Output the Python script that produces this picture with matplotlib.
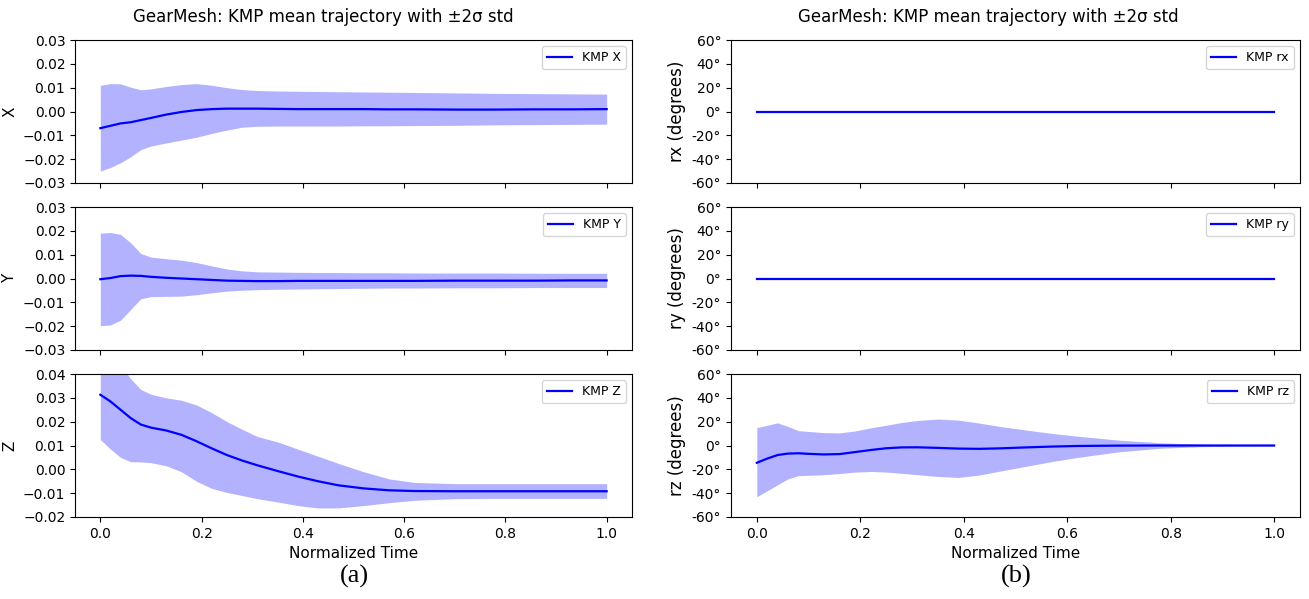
import matplotlib
matplotlib.use('Agg')
import matplotlib.pyplot as plt
from matplotlib.ticker import FuncFormatter, MultipleLocator
import numpy as np

# normalized time samples
t = [0.0, 0.02, 0.04, 0.06, 0.08, 0.10, 0.13, 0.16, 0.19, 0.22, 0.25, 0.28, 0.31,
     0.35, 0.39, 0.43, 0.47, 0.52, 0.57, 0.62, 0.70, 0.78, 0.86, 0.93, 1.0]

# position (left column)
x_mean = [-0.0070, -0.0060, -0.0050, -0.0045, -0.0036, -0.0027, -0.0013, -0.0002, 0.0006, 0.0010,
          0.0012, 0.0012, 0.0012, 0.0011, 0.0010, 0.0010, 0.0010, 0.0010, 0.0009, 0.0009,
          0.0008, 0.0008, 0.0009, 0.0009, 0.0010]
x_up = [0.0110, 0.0117, 0.0116, 0.0102, 0.0091, 0.0095, 0.0105, 0.0113, 0.0117, 0.0110,
        0.0100, 0.0092, 0.0088, 0.0086, 0.0085, 0.0084, 0.0083, 0.0082, 0.0081, 0.0080,
        0.0078, 0.0076, 0.0075, 0.0074, 0.0073]
x_lo = [-0.0250, -0.0235, -0.0215, -0.0190, -0.0160, -0.0145, -0.0132, -0.0120, -0.0108, -0.0092,
        -0.0078, -0.0066, -0.0062, -0.0061, -0.0061, -0.0061, -0.0061, -0.0060, -0.0060, -0.0059,
        -0.0058, -0.0056, -0.0055, -0.0054, -0.0053]

y_mean = [-0.0003, 0.0002, 0.0010, 0.0012, 0.0011, 0.0007, 0.0003, 0.0000, -0.0003, -0.0006,
          -0.0009, -0.0010, -0.0011, -0.0011, -0.0010, -0.0010, -0.0010, -0.0010, -0.0010, -0.0010,
          -0.0009, -0.0009, -0.0009, -0.0008, -0.0008]
y_up = [0.0190, 0.0193, 0.0185, 0.0150, 0.0105, 0.0090, 0.0083, 0.0077, 0.0067, 0.0053,
        0.0040, 0.0032, 0.0028, 0.0027, 0.0026, 0.0025, 0.0025, 0.0024, 0.0024, 0.0023,
        0.0023, 0.0023, 0.0022, 0.0022, 0.0022]
y_lo = [-0.0198, -0.0195, -0.0175, -0.0130, -0.0085, -0.0076, -0.0075, -0.0074, -0.0068, -0.0060,
        -0.0053, -0.0049, -0.0047, -0.0045, -0.0044, -0.0043, -0.0042, -0.0041, -0.0040, -0.0040,
        -0.0039, -0.0039, -0.0038, -0.0038, -0.0038]

z_mean = [0.0313, 0.0285, 0.0250, 0.0215, 0.0188, 0.0175, 0.0163, 0.0145, 0.0118, 0.0088,
          0.0060, 0.0037, 0.0017, -0.0007, -0.0030, -0.0050, -0.0067, -0.0080, -0.0088, -0.0091,
          -0.0092, -0.0092, -0.0092, -0.0092, -0.0092]
z_up = [0.0520, 0.0490, 0.0440, 0.0380, 0.0335, 0.0315, 0.0300, 0.0290, 0.0270, 0.0238,
        0.0200, 0.0168, 0.0138, 0.0115, 0.0085, 0.0055, 0.0025, -0.0010, -0.0040, -0.0055,
        -0.0060, -0.0060, -0.0060, -0.0060, -0.0060]
z_lo = [0.0125, 0.0085, 0.0050, 0.0032, 0.0031, 0.0028, 0.0015, -0.0010, -0.0050, -0.0080,
        -0.0097, -0.0110, -0.0123, -0.0137, -0.0152, -0.0162, -0.0162, -0.0152, -0.0140, -0.0130,
        -0.0123, -0.0122, -0.0122, -0.0122, -0.0122]

# rotation in degrees (right column)
rx_mean = [0.0] * 25
rx_up = [0.3] * 25
rx_lo = [-0.3] * 25

ry_mean = [0.0] * 25
ry_up = [0.3] * 25
ry_lo = [-0.3] * 25

rz_mean = [-14.5, -11.0, -8.0, -6.8, -6.5, -7.0, -7.5, -7.2, -5.5, -3.8,
           -2.3, -1.6, -1.5, -2.0, -2.6, -2.8, -2.4, -1.6, -0.9, -0.4,
           -0.1, 0.0, 0.0, 0.0, 0.0]
rz_up = [15.0, 17.0, 19.0, 16.0, 12.5, 11.8, 10.8, 10.6, 12.2, 14.8,
         17.0, 19.3, 21.0, 22.2, 21.3, 18.8, 16.0, 13.0, 10.2, 7.8,
         4.5, 2.3, 1.0, 0.5, 0.3]
rz_lo = [-43.0, -38.0, -33.0, -28.0, -25.3, -25.0, -24.5, -23.5, -22.3, -21.8,
         -22.3, -23.3, -24.5, -26.0, -26.8, -24.8, -21.5, -17.5, -13.5, -10.0,
         -5.3, -2.3, -1.0, -0.5, -0.3]

title = 'GearMesh: KMP mean trajectory with ±2σ std'

fig = plt.figure(figsize=(13.09, 5.99), dpi=100)

rows_b = [0.6945, 0.4157, 0.1369]
h = 0.2387

# left column: positions
pos = [('X', x_mean, x_up, x_lo), ('Y', y_mean, y_up, y_lo), ('Z', z_mean, z_up, z_lo)]
left_axes = []
for i, (name, m, up, lo) in enumerate(pos):
    ax = fig.add_axes([0.0573, rows_b[i], 0.4255, h], sharex=left_axes[0] if left_axes else None)
    ax.fill_between(t, lo, up, color='blue', alpha=0.3, linewidth=0)
    ax.plot(t, m, color='blue', lw=1.6, label='KMP ' + name)
    ax.set_ylabel(name, fontsize=11)
    ax.legend(loc='upper right', fontsize=9)
    ax.tick_params(labelsize=10)
    if name == 'Z':
        ax.set_ylim(-0.02, 0.04)
    else:
        ax.set_ylim(-0.03, 0.03)
    ax.yaxis.set_major_locator(MultipleLocator(0.01))
    if i < 2:
        ax.tick_params(labelbottom=False)
    left_axes.append(ax)
left_axes[-1].set_xlabel('Normalized Time', fontsize=11)

# right column: rotations
rot = [('rx', rx_mean, rx_up, rx_lo), ('ry', ry_mean, ry_up, ry_lo), ('rz', rz_mean, rz_up, rz_lo)]
deg_fmt = FuncFormatter(lambda v, p: '%d°' % round(v))
right_axes = []
for i, (name, m, up, lo) in enumerate(rot):
    ax = fig.add_axes([0.5584, rows_b[i], 0.4347, h], sharex=right_axes[0] if right_axes else None)
    ax.fill_between(t, lo, up, color='blue', alpha=0.3, linewidth=0)
    ax.plot(t, m, color='blue', lw=1.6, label='KMP ' + name)
    ax.set_ylabel(name + ' (degrees)', fontsize=12)
    ax.legend(loc='upper right', fontsize=9)
    ax.set_ylim(-60, 60)
    ax.yaxis.set_major_locator(MultipleLocator(20))
    ax.yaxis.set_major_formatter(deg_fmt)
    ax.tick_params(labelsize=10)
    if i < 2:
        ax.tick_params(labelbottom=False)
    right_axes.append(ax)
right_axes[-1].set_xlabel('Normalized Time', fontsize=11)

fig.text(323 / 1309, 0.972, title, ha='center', va='center', fontsize=12)
fig.text(988 / 1309, 0.972, title, ha='center', va='center', fontsize=12)

fig.text(354 / 1309, 0.037, '(a)', ha='center', va='center', fontsize=19, family='Liberation Serif')
fig.text(1016 / 1309, 0.037, '(b)', ha='center', va='center', fontsize=19, family='Liberation Serif')

fig.savefig('out.png', dpi=100)
plt.close()
